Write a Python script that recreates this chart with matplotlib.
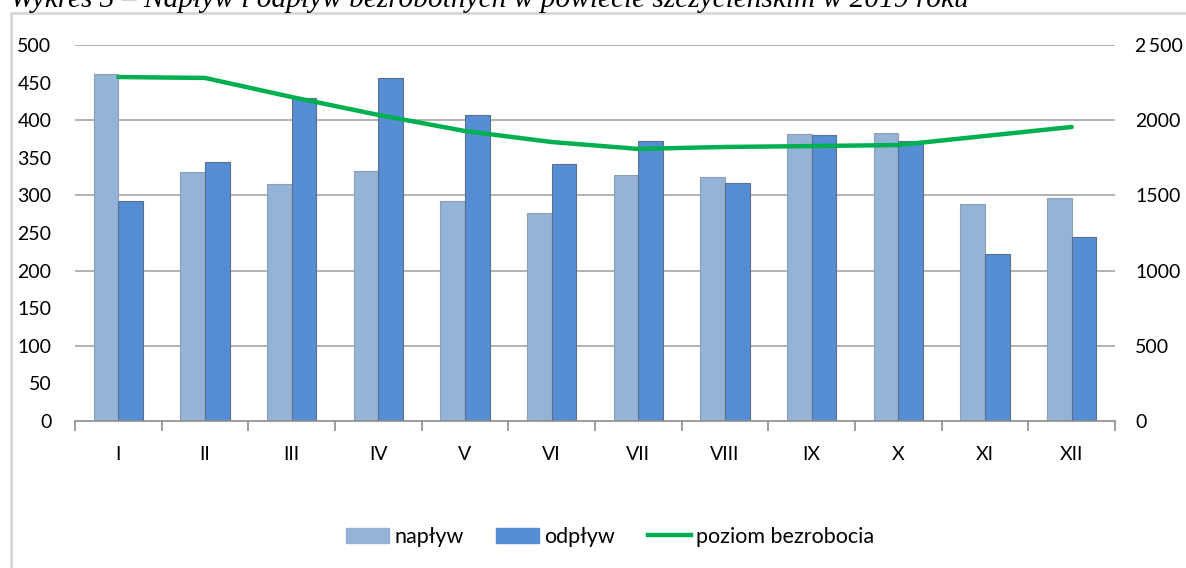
import matplotlib.pyplot as plt
import numpy as np
from matplotlib.patches import Rectangle
from matplotlib.lines import Line2D

months = ["I", "II", "III", "IV", "V", "VI", "VII", "VIII", "IX", "X", "XI", "XII"]
naplyw = [461, 331, 315, 332, 292, 277, 327, 325, 381, 383, 289, 297]
odplyw = [292, 345, 430, 456, 407, 342, 372, 317, 380, 373, 222, 245]
poziom = [2287, 2281, 2154, 2035, 1928, 1855, 1809, 1822, 1828, 1835, 1895, 1955]
right_labels = ["0", "500", "1000", "1500", "2000", "2\u2009500"]

c_naplyw = "#95b3d7"
c_odplyw = "#558ed5"
c_line = "#00b050"
grid_c = "#a6a6a6"

plt.rcParams["font.family"] = ["Lato", "DejaVu Sans"]

fig = plt.figure(figsize=(11.86, 5.68), dpi=100)

# outer chart frame
fig.patches.append(Rectangle((11 / 1186, -0.1), 1.2, 1 - 13 / 568 + 0.1,
                             transform=fig.transFigure, fill=False,
                             edgecolor="#d4d4d4", linewidth=1.8))

fig.text(10 / 1186, 1 - 7 / 568,
         "Wykres 3 \u2013 Napływ i odpływ bezrobotnych w powiecie szczycieńskim w 2019 roku",
         family="Liberation Serif", style="italic", fontsize=21.2, va="baseline", ha="left")

ax = fig.add_axes([75 / 1186, 1 - 421 / 568, 1040 / 1186, 376 / 568])
x = np.arange(len(months))
w = 0.283
ax.bar(x - w / 2, naplyw, w, color=c_naplyw, edgecolor="#8c9fb5", linewidth=0.8, zorder=2)
ax.bar(x + w / 2, odplyw, w, color=c_odplyw, edgecolor="#5a6f8c", linewidth=0.8, zorder=2)

ax.set_xlim(-0.5, 11.5)
ax.set_ylim(0, 500)
ax.set_yticks(range(0, 501, 50))
for v in range(100, 501, 100):
    ax.axhline(v, color=grid_c, linewidth=1.2, zorder=1)
ax.set_xticks(x)
ax.set_xticklabels(months, fontsize=14)
ax.set_xticks(np.arange(-0.5, 12, 1), minor=True)
ax.tick_params(axis="x", which="major", length=0, pad=18)
ax.tick_params(axis="x", which="minor", length=7, color="#8c8c8c", width=1.2)
ax.tick_params(axis="y", length=0, labelsize=14, pad=17)
for s in ["top", "right", "left"]:
    ax.spines[s].set_visible(False)
ax.spines["bottom"].set_color("#8c8c8c")
ax.spines["bottom"].set_linewidth(1.2)

ax2 = ax.twinx()
ax2.plot(x, poziom, color=c_line, linewidth=3.2, solid_capstyle="round", zorder=3)
ax2.set_ylim(0, 2500)
ax2.set_yticks(range(0, 2501, 500))
ax2.set_yticklabels(right_labels)
ax2.tick_params(axis="y", length=0, labelsize=14, pad=14.5)
for s in ["top", "right", "left", "bottom"]:
    ax2.spines[s].set_visible(False)

handles = [Rectangle((0, 0), 1, 1, color=c_naplyw),
           Rectangle((0, 0), 1, 1, color=c_odplyw),
           Line2D([0], [0], color=c_line, linewidth=3.2)]
fig.legend(handles, ["napływ", "odpływ", "poziom bezrobocia"], loc="center",
           bbox_to_anchor=(610 / 1186, 1 - 537 / 568), ncol=3, frameon=False,
           fontsize=15.5, handlelength=2.0, handleheight=0.7, columnspacing=1.5,
           handletextpad=0.25)

fig.savefig("out.png", dpi=100)
